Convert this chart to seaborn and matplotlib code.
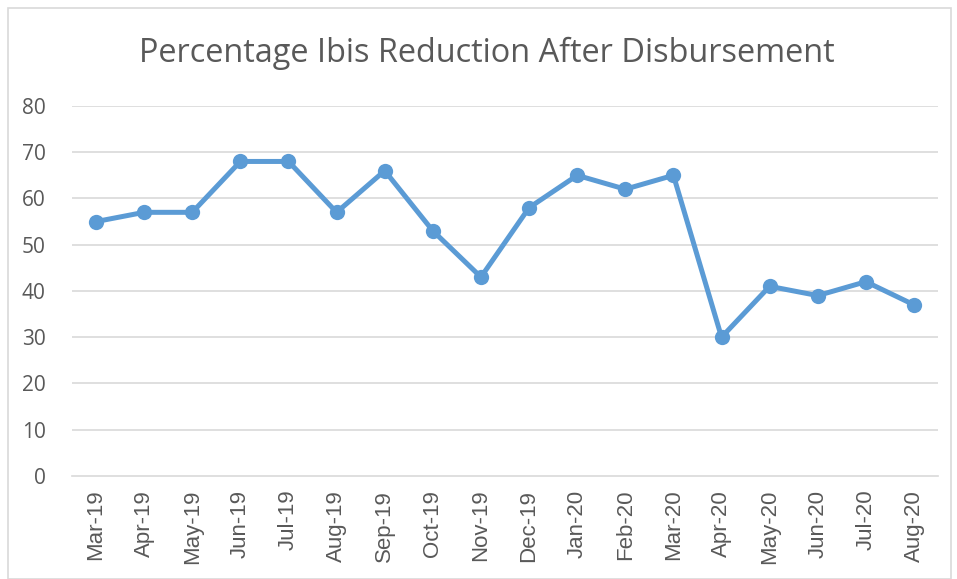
import matplotlib
matplotlib.use("Agg")
import matplotlib.pyplot as plt
import seaborn as sns
import pandas as pd
from matplotlib.patches import Rectangle

# dados
meses = ["Mar-19", "Apr-19", "May-19", "Jun-19", "Jul-19", "Aug-19", "Sep-19",
         "Oct-19", "Nov-19", "Dec-19", "Jan-20", "Feb-20", "Mar-20", "Apr-20",
         "May-20", "Jun-20", "Jul-20", "Aug-20"]
reducao = [55, 57, 57, 68, 68, 57, 66, 53, 43, 58, 65, 62, 65, 30, 41, 39, 42, 37]
y_ticks = [0, 10, 20, 30, 40, 50, 60, 70, 80]

sns.set_style("white")
plt.rcParams['font.family'] = ['Open Sans', 'DejaVu Sans']

TXT = "#595959"
GRID = "#d9d9d9"
LINHA = "#5b9bd5"

df = pd.DataFrame({"pos": range(len(meses)), "valor": reducao})

fig = plt.figure(figsize=(9.57, 5.79), dpi=100)
ax = fig.add_axes([0.0752, 0.178, 0.905, 0.639])

sns.lineplot(data=df, x="pos", y="valor", ax=ax, color=LINHA, linewidth=3.6,
             marker="o", markersize=11, markeredgewidth=0, markeredgecolor=LINHA)

ax.set_xlim(-0.5, len(meses) - 0.5)
ax.set_ylim(0, 80)
ax.set_yticks(y_ticks)
ax.set_yticklabels([str(v) for v in y_ticks], color=TXT, fontsize=15)
ax.set_xticks(range(len(meses)))
ax.set_xticklabels(meses, rotation=90, color=TXT, fontsize=16,
                   family=['Liberation Sans', 'DejaVu Sans'])
ax.set_xticks([i - 0.5 for i in range(len(meses) + 1)], minor=True)
ax.tick_params(axis="x", which="major", length=0, pad=10)
ax.tick_params(axis="x", which="minor", length=6, color=GRID, width=1.2)
ax.tick_params(axis="y", length=0, pad=19)

for v in y_ticks[1:]:
    ax.axhline(v, color=GRID, linewidth=1.2, zorder=0)

for s in ["top", "right", "left"]:
    ax.spines[s].set_visible(False)
ax.spines["bottom"].set_color(GRID)
ax.spines["bottom"].set_linewidth(1.2)

ax.set_xlabel("")
ax.set_ylabel("")
fig.text(0.509, 1 - 62 / 579, "Percentage Ibis Reduction After Disbursement",
         ha="center", va="baseline", fontsize=23.4, color=TXT)

# moldura do gráfico
fig.patches.append(Rectangle((8 / 957, 0), 943 / 957, 571 / 579, transform=fig.transFigure,
                             fill=False, edgecolor=GRID, linewidth=1.2))

fig.savefig("out.png", dpi=100)
